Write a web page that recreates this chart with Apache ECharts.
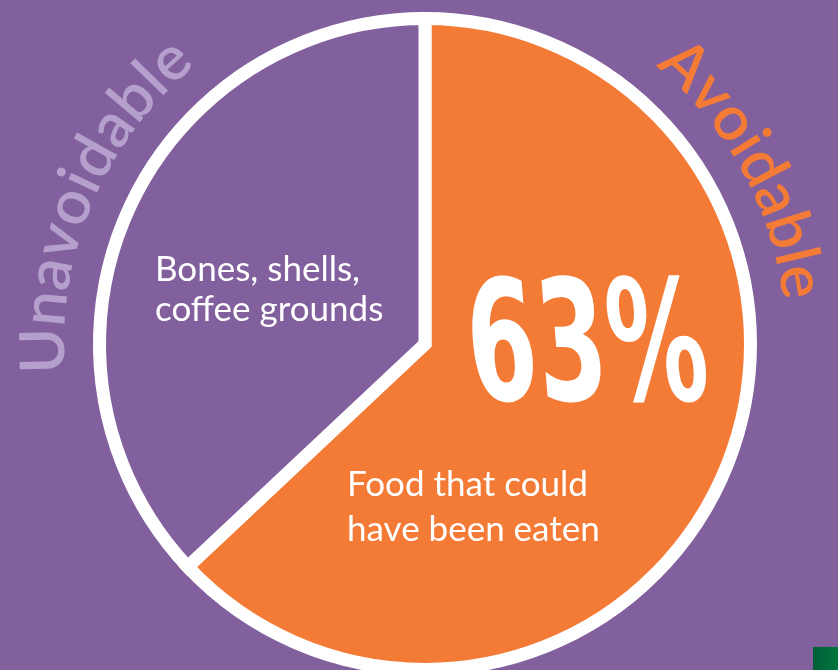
<!DOCTYPE html>
<html><head><meta charset="utf-8">
<script src="https://cdn.jsdelivr.net/npm/echarts@6/dist/echarts.min.js"></script>
<style>html,body{margin:0;padding:0;background:#82609E;overflow:hidden}#c{width:838px;height:670px}</style>
</head><body><div id="c"></div>
<script>
// ---- data ----
const categories = ['Avoidable', 'Unavoidable'];
const values = [63, 37];
const sliceNotes = [['Food that could', 'have been eaten'], ['Bones, shells,', 'coffee grounds']];
const sliceColors = ['#F47B36', '#82609E'];
const arcTitleColors = ['#F47B36', '#B5A0CD'];

// ---- layout ----
const W = 838, H = 670;
const cx = 425, cy = 344;
const BG = '#82609E';
const FONT_FAMILY = 'Lato, "Noto Sans", sans-serif';

const measureCtx = document.createElement('canvas').getContext('2d');
function measure(text, font) { measureCtx.font = font; return measureCtx.measureText(text).width; }

// text along arc, given angles (deg, clockwise from 12 o'clock) of first and last glyph centres
function arcText(str, a0, a1, r, font, color) {
  const chars = [...str];
  const ws = chars.map(ch => measure(ch, font));
  const n = chars.length;
  let inner = 0;
  for (let i = 0; i < n; i++) inner += ws[i];
  inner -= ws[0] / 2 + ws[n - 1] / 2;
  const arcLen = (a1 - a0) * Math.PI / 180 * r;
  const track = (arcLen - inner) / (n - 1);
  const els = [];
  let s = 0;
  for (let i = 0; i < n; i++) {
    if (i > 0) s += ws[i - 1] / 2 + ws[i] / 2 + track;
    const a = a0 * Math.PI / 180 + s / r;
    els.push({
      type: 'text', silent: true, z: 100,
      x: cx + r * Math.sin(a), y: cy - r * Math.cos(a), rotation: -a,
      style: { text: chars[i], font: font, fill: color, align: 'center', verticalAlign: 'middle' }
    });
  }
  return els;
}

const total = values.reduce((a, b) => a + b, 0);
const pctText = Math.round(values[0] / total * 100) + '%';

const arcFont = '600 62px ' + FONT_FAMILY;
const noteFont = '400 35px ' + FONT_FAMILY;
const bigFont = 'bold 168px "Liberation Sans Narrow", "DejaVu Sans Condensed", "Liberation Sans", sans-serif';
const bigW = measure(pctText, bigFont);
const bigScaleX = 240 / bigW;

function note(text, x, y) {
  return { type: 'text', silent: true, z: 100, x: x, y: y,
    style: { text: text, font: noteFont, fill: '#ffffff', align: 'left', verticalAlign: 'middle' } };
}

const graphics = []
  .concat(arcText(categories[1], 269, 318, 381, arcFont, arcTitleColors[1]))
  .concat(arcText(categories[0], 43, 80.5, 381, arcFont, arcTitleColors[0]))
  .concat([
    note(sliceNotes[1][0], 155, 270),
    note(sliceNotes[1][1], 155, 310),
    note(sliceNotes[0][0], 347, 485),
    note(sliceNotes[0][1], 347, 530),
    { type: 'text', silent: true, z: 100, x: 588, y: 356, scaleX: bigScaleX, skewX: 0.08,
      style: { text: pctText, font: bigFont, fill: '#ffffff', align: 'center', verticalAlign: 'middle' } },
    { type: 'rect', silent: true, z: 100, shape: { x: 813, y: 647, width: 25, height: 23 },
      style: { fill: { type: 'linear', x: 0, y: 0, x2: 1, y2: 0, colorStops: [{ offset: 0, color: '#005E35' }, { offset: 1, color: '#00773F' }] } } }
  ]);

const chart = echarts.init(document.getElementById('c'), null, { renderer: 'canvas', width: W, height: H });
chart.setOption({
  backgroundColor: BG,
  animation: false,
  series: [{
    type: 'pie',
    center: [cx, cy],
    radius: 325.5,
    startAngle: 90,
    clockwise: true,
    silent: true,
    z: 1,
    label: { show: false },
    labelLine: { show: false },
    emphasis: { disabled: true },
    itemStyle: { borderColor: '#ffffff', borderWidth: 13, borderJoin: 'miter' },
    data: categories.map((c, i) => ({ name: c, value: values[i], itemStyle: { color: sliceColors[i] } }))
  }],
  graphic: { elements: graphics }
});
</script>
</body></html>
